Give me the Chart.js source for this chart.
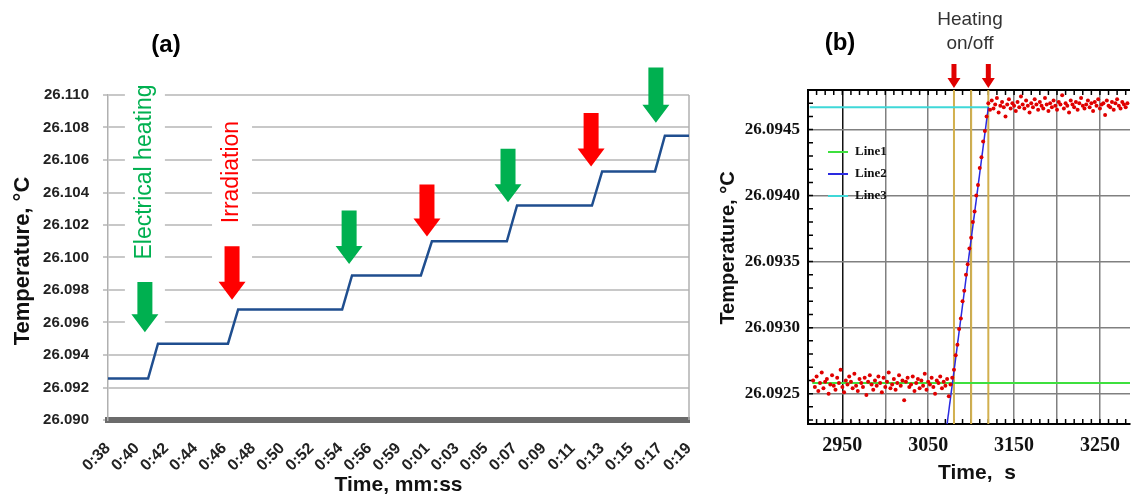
<!DOCTYPE html>
<html>
<head>
<meta charset="utf-8">
<script src="https://cdn.jsdelivr.net/npm/chart.js@4.4.1/dist/chart.umd.min.js"></script>
<style>
  body { margin: 0; background: #fff; width: 1134px; height: 495px; overflow: hidden; position: relative; }
  canvas { position: absolute; top: 0; }
  #chartA { left: 0; }
  #chartB { left: 700px; }
</style>
</head>
<body>
<canvas id="chartA" width="700" height="495"></canvas>
<canvas id="chartB" width="434" height="495"></canvas>
<script>
// ---------- panel (a): stepwise temperature ----------
const timeLabels = ["0:38", "0:40", "0:42", "0:44", "0:46", "0:48", "0:50", "0:52", "0:54", "0:56", "0:59",
  "0:01", "0:03", "0:05", "0:07", "0:09", "0:11", "0:13", "0:15", "0:17", "0:19"];
const yTicksA = [26.090, 26.092, 26.094, 26.096, 26.098, 26.100, 26.102, 26.104, 26.106, 26.108, 26.110];

// x is the category position (0 = 0:38 ... 20 = 0:19)
const stepX = [0, 1.38, 1.72, 4.13, 4.48, 8.06, 8.40, 10.77, 11.15, 13.73, 14.08, 16.66, 17.01, 18.83, 19.17, 20];
const stepT = [26.09255, 26.09255, 26.0947, 26.0947, 26.0968, 26.0968, 26.0989, 26.0989, 26.1010, 26.1010,
  26.1032, 26.1032, 26.1053, 26.1053, 26.1075, 26.1075];

// event arrows: heat = electrical heating (green), irr = irradiation (red)
const arrowX = [1.27, 4.27, 8.30, 10.98, 13.77, 16.63, 18.86];
const arrowTop = [26.0985, 26.1007, 26.1029, 26.1045, 26.1067, 26.1089, 26.1117];
const arrowTip = [26.0954, 26.0974, 26.0996, 26.1013, 26.1034, 26.1056, 26.1083];
const arrowKind = ["heat", "irr", "heat", "irr", "heat", "irr", "heat"];

// ---------- panel (b): single heating step ----------
const sampleStart = 2916;   // s
const sampleStep = 2;       // s
const tempB = [
  26.09260, 26.09255, 26.09263, 26.09252, 26.09258, 26.09266, 26.09254, 26.09259, 26.09261, 26.09250,
  26.09257, 26.09264, 26.09256, 26.09253, 26.09262, 26.09258, 26.09268, 26.09255, 26.09251, 26.09260,
  26.09257, 26.09263, 26.09259, 26.09254, 26.09265, 26.09256, 26.09252, 26.09261, 26.09258, 26.09255,
  26.09262, 26.09249, 26.09259, 26.09264, 26.09257, 26.09253, 26.09260, 26.09256, 26.09263, 26.09258,
  26.09251, 26.09262, 26.09255, 26.09259, 26.09266, 26.09254, 26.09257, 26.09261, 26.09253, 26.09258,
  26.09264, 26.09256, 26.09260, 26.09245, 26.09259, 26.09262, 26.09255, 26.09257, 26.09263, 26.09252,
  26.09258, 26.09261, 26.09254, 26.09260, 26.09256, 26.09265, 26.09253, 26.09259, 26.09257, 26.09262,
  26.09255, 26.09250, 26.09260, 26.09258, 26.09263, 26.09254, 26.09259, 26.09256, 26.09261, 26.09248,
  26.09257, 26.09262,
  26.09268, 26.09279, 26.09287, 26.09299, 26.09307, 26.09320, 26.09328, 26.09340, 26.09348, 26.09360,
  26.09368, 26.09380, 26.09388, 26.09400, 26.09408, 26.09421, 26.09429, 26.09441, 26.09449, 26.09460,
  26.09470, 26.09465, 26.09472, 26.09466, 26.09469, 26.09474, 26.09463, 26.09468, 26.09471, 26.09467,
  26.09460, 26.09469, 26.09473, 26.09466, 26.09470, 26.09468, 26.09464, 26.09471, 26.09467, 26.09475,
  26.09469, 26.09466, 26.09472, 26.09468, 26.09463, 26.09470, 26.09467, 26.09473, 26.09469, 26.09465,
  26.09471, 26.09468, 26.09466, 26.09474, 26.09469, 26.09464, 26.09470, 26.09467, 26.09472, 26.09468,
  26.09465, 26.09471, 26.09469, 26.09476, 26.09466, 26.09470, 26.09468, 26.09463, 26.09472, 26.09469,
  26.09467, 26.09471, 26.09465, 26.09470, 26.09474, 26.09468, 26.09466, 26.09469, 26.09472, 26.09467,
  26.09470, 26.09464, 26.09471, 26.09468, 26.09473, 26.09466, 26.09469, 26.09470, 26.09461, 26.09472,
  26.09468, 26.09467, 26.09471, 26.09465, 26.09470, 26.09473, 26.09468, 26.09466, 26.09471, 26.09469,
  26.09467, 26.09470
];
const line1X = [2915, 3285], line1T = [26.09258, 26.09258];
const line2X = [3072, 3120], line2T = [26.09227, 26.09467];
const line3X = [2912, 3120], line3T = [26.09467, 26.09467];
const markerTimes = [3080, 3100, 3120];
const heatingArrows = [3080, 3120];
const xGridB = [2950, 3000, 3050, 3100, 3150, 3200, 3250];
const xLabelsB = [2950, 3050, 3150, 3250];
const yTicksB = [26.0925, 26.0930, 26.0935, 26.0940, 26.0945];
const xRangeB = [2910, 3285];
const yRangeB = [26.09227, 26.09480];

const SANS = '"Liberation Sans", Arial, sans-serif';
const SERIF = '"Liberation Serif", "Times New Roman", serif';

function drawArrow(ctx, x, yTop, yTip, shaftW, headW, headL, color) {
  ctx.fillStyle = color;
  ctx.beginPath();
  ctx.moveTo(x - shaftW / 2, yTop);
  ctx.lineTo(x + shaftW / 2, yTop);
  ctx.lineTo(x + shaftW / 2, yTip - headL);
  ctx.lineTo(x + headW / 2, yTip - headL);
  ctx.lineTo(x, yTip);
  ctx.lineTo(x - headW / 2, yTip - headL);
  ctx.lineTo(x - shaftW / 2, yTip - headL);
  ctx.closePath();
  ctx.fill();
}

function vText(ctx, text, x, y, font, color) {
  ctx.save();
  ctx.translate(x, y);
  ctx.rotate(-Math.PI / 2);
  ctx.font = font;
  ctx.fillStyle = color;
  ctx.textAlign = "center";
  ctx.textBaseline = "middle";
  ctx.fillText(text, 0, 0);
  ctx.restore();
}

const GREEN = "#00b050", RED = "#ff0000";

const panelA = {
  id: "panelA",
  beforeDatasetsDraw(chart) {
    const { ctx, chartArea: a, scales: { x } } = chart;
    ctx.save();
    ctx.strokeStyle = "#b0b0b0";
    ctx.lineWidth = 1.5;
    ctx.beginPath();
    ctx.moveTo(a.right, a.top);
    ctx.lineTo(a.right, a.bottom);
    ctx.stroke();
    // white boxes behind the two labels
    ctx.fillStyle = "#fff";
    const gx = x.getPixelForValue(arrowX[0]);
    ctx.fillRect(gx - 20, 72, 40, 273);
    const rx = x.getPixelForValue(arrowX[1]);
    ctx.fillRect(rx - 20, 105, 40, 158);
    ctx.restore();
  },
  afterDatasetsDraw(chart) {
    const { ctx, scales: { x, y } } = chart;
    ctx.save();
    arrowX.forEach((v, i) => {
      drawArrow(ctx, x.getPixelForValue(v), y.getPixelForValue(arrowTop[i]), y.getPixelForValue(arrowTip[i]),
        15, 27, 18, arrowKind[i] === "heat" ? GREEN : RED);
    });
    ctx.restore();
    vText(ctx, "Electrical heating", x.getPixelForValue(arrowX[0]), 172, "23px " + SANS, GREEN);
    vText(ctx, "Irradiation", x.getPixelForValue(arrowX[1]), 172, "23px " + SANS, RED);
  },
  afterDraw(chart) {
    const { ctx, chartArea: a } = chart;
    ctx.save();
    ctx.fillStyle = "#000";
    ctx.font = "bold 24px " + SANS;
    ctx.textAlign = "center";
    ctx.textBaseline = "middle";
    ctx.fillText("(a)", 166, 45);
    ctx.font = "bold 21px " + SANS;
    ctx.fillStyle = "#111";
    ctx.fillText("Time, mm:ss", (a.left + a.right) / 2, 485);
    ctx.restore();
    vText(ctx, "Temperature, °C", 23, 261, "bold 22px " + SANS, "#111");
  }
};

new Chart(document.getElementById("chartA"), {
  type: "scatter",
  data: {
    datasets: [{
      label: "Temperature",
      data: stepX.map((v, i) => ({ x: v, y: stepT[i] })),
      showLine: true,
      borderColor: "#1f4e8f",
      borderWidth: 2.5,
      pointRadius: 0
    }]
  },
  options: {
    responsive: false,
    animation: false,
    layout: { padding: { top: 95, right: 11, left: 0, bottom: 0 } },
    plugins: { legend: { display: false }, tooltip: { enabled: false } },
    scales: {
      x: {
        type: "linear", min: 0, max: 20,
        afterBuildTicks: s => { s.ticks = timeLabels.map((_, i) => ({ value: i })); },
        afterFit: s => { s.height = 75; s.paddingLeft = 0; s.paddingRight = 0; },
        grid: { display: false },
        border: { display: true, color: "#6b6b6b", width: 6 },
        ticks: {
          autoSkip: false, minRotation: 45, maxRotation: 45, padding: 11,
          color: "#222", font: { family: SANS, size: 16, weight: "bold" },
          callback: v => timeLabels[v]
        }
      },
      y: {
        min: 26.090, max: 26.110,
        afterBuildTicks: s => { s.ticks = yTicksA.map(v => ({ value: v })); },
        afterFit: s => { s.width = 108; },
        grid: { color: "#c8c8c8", lineWidth: 2, tickLength: 5 },
        border: { display: true, color: "#b0b0b0", width: 1.5 },
        ticks: {
          padding: 14, color: "#222", font: { family: SANS, size: 15, weight: "bold" },
          callback: v => v.toFixed(3)
        }
      }
    }
  },
  plugins: [panelA]
});

const panelB = {
  id: "panelB",
  beforeDatasetsDraw(chart) {
    const { ctx, chartArea: a, scales: { x, y } } = chart;
    ctx.save();
    ctx.strokeStyle = "#000";
    ctx.lineWidth = 2;
    ctx.beginPath();
    ctx.moveTo(a.left, a.top);
    ctx.lineTo(a.right, a.top);
    ctx.stroke();
    ctx.lineWidth = 1.5;
    ctx.beginPath();
    for (let t = 2910; t <= 3280; t += 10) {
      const px = x.getPixelForValue(t);
      ctx.moveTo(px, a.top); ctx.lineTo(px, a.top + 5);
      ctx.moveTo(px, a.bottom); ctx.lineTo(px, a.bottom - 5);
    }
    for (let k = 260923; k <= 260947; k++) {
      const py = y.getPixelForValue(k / 10000);
      ctx.moveTo(a.left, py); ctx.lineTo(a.left + 5, py);
    }
    ctx.stroke();
    ctx.restore();
  },
  afterDraw(chart) {
    const { ctx, chartArea: a, scales: { x } } = chart;
    ctx.save();
    ctx.fillStyle = "#000";
    ctx.textAlign = "center";
    ctx.textBaseline = "middle";
    ctx.font = "bold 24px " + SANS;
    ctx.fillText("(b)", 140, 43);
    ctx.fillStyle = "#333";
    ctx.font = "19px " + SANS;
    ctx.fillText("Heating", 270, 20);
    ctx.fillText("on/off", 270, 44);
    ctx.fillStyle = "#111";
    ctx.font = "bold 21px " + SANS;
    ctx.fillText("Time,  s", 277, 473);
    heatingArrows.forEach(t => drawArrow(ctx, x.getPixelForValue(t), 64, 88, 5, 13, 10, "#e00000"));
    // legend
    const legend = [["Line1", "#3ee03e"], ["Line2", "#2a2ae0"], ["Line3", "#3fd8d8"]];
    ctx.textAlign = "left";
    ctx.font = "bold 13px " + SERIF;
    legend.forEach(([name, col], i) => {
      const ly = 152 + i * 22;
      ctx.strokeStyle = col;
      ctx.lineWidth = 2;
      ctx.beginPath();
      ctx.moveTo(a.left + 20, ly);
      ctx.lineTo(a.left + 40, ly);
      ctx.stroke();
      ctx.fillStyle = "#111";
      ctx.fillText(name, a.left + 47, ly);
    });
    ctx.restore();
    vText(ctx, "Temperature, °C", 28, 248, "bold 20px " + SANS, "#111");
  }
};

const markerSets = markerTimes.map(t => ({
  label: "marker",
  data: [{ x: t, y: yRangeB[0] }, { x: t, y: yRangeB[1] }],
  showLine: true, borderColor: "#d2b04e", borderWidth: 2, pointRadius: 0, order: 5
}));

new Chart(document.getElementById("chartB"), {
  type: "scatter",
  data: {
    datasets: [
      {
        label: "data",
        data: tempB.map((v, i) => ({ x: sampleStart + i * sampleStep, y: v })),
        pointRadius: 2, pointBackgroundColor: "#e00000", pointBorderWidth: 0, showLine: false, order: 0
      },
      {
        label: "Line2", data: line2X.map((v, i) => ({ x: v, y: line2T[i] })),
        showLine: true, borderColor: "#2a2ae0", borderWidth: 1.5, pointRadius: 0, order: 1
      },
      {
        label: "Line3", data: line3X.map((v, i) => ({ x: v, y: line3T[i] })),
        showLine: true, borderColor: "#3fd8d8", borderWidth: 2, pointRadius: 0, order: 2
      },
      {
        label: "Line1", data: line1X.map((v, i) => ({ x: v, y: line1T[i] })),
        showLine: true, borderColor: "#3ee03e", borderWidth: 2, pointRadius: 0, order: 3
      },
      ...markerSets
    ]
  },
  options: {
    responsive: false,
    animation: false,
    layout: { padding: { top: 90, right: 0, left: 0, bottom: 0 } },
    plugins: { legend: { display: false }, tooltip: { enabled: false } },
    scales: {
      x: {
        type: "linear", min: xRangeB[0], max: xRangeB[1],
        afterBuildTicks: s => { s.ticks = xGridB.map(v => ({ value: v })); },
        afterFit: s => { s.height = 71; },
        grid: { color: c => (c.tick && c.tick.value === 2950 ? "#111" : "#808080"), lineWidth: 1.5, drawTicks: false },
        border: { display: true, color: "#000", width: 2 },
        ticks: {
          autoSkip: false, maxRotation: 0, padding: 10, color: "#111",
          font: { family: SERIF, size: 20, weight: "bold" },
          callback: v => (xLabelsB.includes(v) ? String(v) : "")
        }
      },
      y: {
        min: yRangeB[0], max: yRangeB[1],
        afterBuildTicks: s => { s.ticks = yTicksB.map(v => ({ value: v })); },
        afterFit: s => { s.width = 108; },
        grid: { color: "#808080", lineWidth: 1.5, drawTicks: false },
        border: { display: true, color: "#000", width: 2 },
        ticks: {
          padding: 8, color: "#111", font: { family: SERIF, size: 17, weight: "bold" },
          callback: v => v.toFixed(4)
        }
      }
    }
  },
  plugins: [panelB]
});
</script>
</body>
</html>
